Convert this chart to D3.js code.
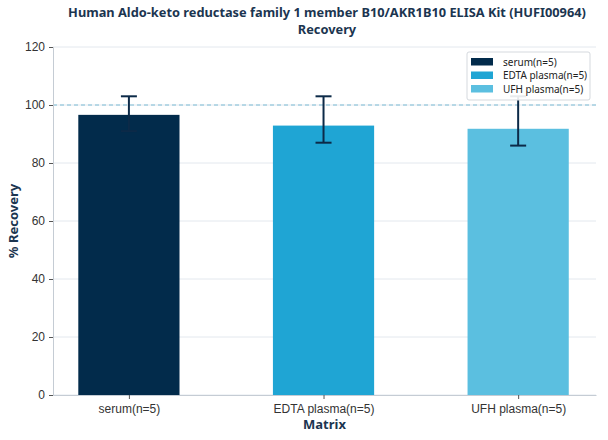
<!DOCTYPE html>
<html>
<head>
<meta charset="utf-8">
<script src="https://cdn.jsdelivr.net/npm/d3@7"></script>
<style>
  body { margin: 0; background: #fff; }
  svg { font-family: "Noto Sans", "Open Sans", sans-serif; }
</style>
</head>
<body>
<svg id="chart" width="608" height="440"></svg>
<script>
const categories = ['serum(n=5)', 'EDTA plasma(n=5)', 'UFH plasma(n=5)'];
const recovery = [96.6, 92.9, 91.8];
const errLow = [91, 87, 86];
const errHigh = [103, 103, 103];
const colors = ['#022b4b', '#1fa5d4', '#5bbfe0'];
const yTicks = [0, 20, 40, 60, 80, 100, 120];
const titleLines = ['Human Aldo-keto reductase family 1 member B10/AKR1B10 ELISA Kit (HUFI00964)', 'Recovery'];

const svg = d3.select('#chart');
const margin = { top: 47, right: 12, bottom: 45, left: 53 };
const width = 608, height = 440;
const textColor = '#1b3550';

const x = d3.scaleLinear()
  .domain([-0.39, 2.4])
  .range([margin.left, width - margin.right]);
const y = d3.scaleLinear()
  .domain([0, 120])
  .range([height - margin.bottom, margin.top]);
const barW = 0.52;

// grid
svg.append('g')
  .selectAll('line')
  .data(yTicks)
  .enter()
  .append('line')
  .attr('x1', margin.left)
  .attr('x2', width - margin.right)
  .attr('y1', d => y(d))
  .attr('y2', d => y(d))
  .attr('stroke', '#e3e8ee')
  .attr('stroke-width', 1);

// reference line at 100
svg.append('line')
  .attr('x1', margin.left)
  .attr('x2', width - margin.right)
  .attr('y1', y(100))
  .attr('y2', y(100))
  .attr('stroke', '#7cbcd4')
  .attr('stroke-width', 1)
  .attr('stroke-dasharray', '4,3');

// bars
svg.append('g')
  .selectAll('rect')
  .data(recovery)
  .enter()
  .append('rect')
  .attr('x', (d, i) => x(i - barW / 2))
  .attr('width', x(barW) - x(0))
  .attr('y', d => y(d))
  .attr('height', d => y(0) - y(d))
  .attr('fill', (d, i) => colors[i]);

// error bars
const eb = svg.append('g').attr('stroke', '#0c2a48').attr('stroke-width', 2);
categories.forEach((c, i) => {
  const cx = x(i);
  eb.append('line').attr('x1', cx).attr('x2', cx).attr('y1', y(errLow[i])).attr('y2', y(errHigh[i]));
  eb.append('line').attr('x1', cx - 8).attr('x2', cx + 8).attr('y1', y(errLow[i])).attr('y2', y(errLow[i]));
  eb.append('line').attr('x1', cx - 8).attr('x2', cx + 8).attr('y1', y(errHigh[i])).attr('y2', y(errHigh[i]));
});

// y axis
const yAxis = svg.append('g')
  .attr('transform', `translate(${margin.left},0)`)
  .call(d3.axisLeft(y).tickValues(yTicks).tickSize(4).tickPadding(4));
yAxis.select('.domain').attr('stroke', '#c5ccd4');
yAxis.selectAll('.tick line').attr('stroke', '#555');
yAxis.selectAll('text').attr('fill', '#333').style('font-size', '12px');

// x axis
const xAxis = svg.append('g')
  .attr('transform', `translate(0,${height - margin.bottom})`)
  .call(d3.axisBottom(x).tickValues([0, 1, 2]).tickFormat(i => categories[i]).tickSize(4).tickPadding(5).tickSizeOuter(0));
xAxis.select('.domain').attr('stroke', '#c5ccd4');
xAxis.selectAll('.tick line').attr('stroke', '#555');
xAxis.selectAll('text').attr('fill', '#333').style('font-size', '12px');

// title
svg.append('g')
  .selectAll('text')
  .data(titleLines)
  .enter()
  .append('text')
  .attr('x', 327)
  .attr('y', (d, i) => 17 + i * 17)
  .attr('text-anchor', 'middle')
  .attr('fill', textColor)
  .style('font-size', '12.8px')
  .style('font-weight', 'bold')
  .text(d => d);

// axis labels
svg.append('text')
  .attr('x', (margin.left + width - margin.right) / 2)
  .attr('y', 429)
  .attr('text-anchor', 'middle')
  .attr('fill', textColor)
  .style('font-size', '13px')
  .style('font-weight', 'bold')
  .text('Matrix');

svg.append('text')
  .attr('transform', `translate(18,${y(60)}) rotate(-90)`)
  .attr('text-anchor', 'middle')
  .attr('fill', textColor)
  .style('font-size', '13px')
  .style('font-weight', 'bold')
  .text('% Recovery');

// legend
const lg = svg.append('g').attr('transform', 'translate(467,52)');
lg.append('rect')
  .attr('width', 123)
  .attr('height', 48)
  .attr('rx', 2)
  .attr('fill', 'rgba(255,255,255,0.9)')
  .attr('stroke', '#d5d9de');
categories.forEach((c, i) => {
  const row = lg.append('g').attr('transform', `translate(4,${5 + i * 13.5})`);
  row.append('rect').attr('width', 22).attr('height', 7.5).attr('y', 1).attr('fill', colors[i]);
  row.append('text').attr('x', 32).attr('y', 8.5)
    .attr('fill', '#222')
    .style('font-size', '10px')
    .text(c);
});
</script>
</body>
</html>
